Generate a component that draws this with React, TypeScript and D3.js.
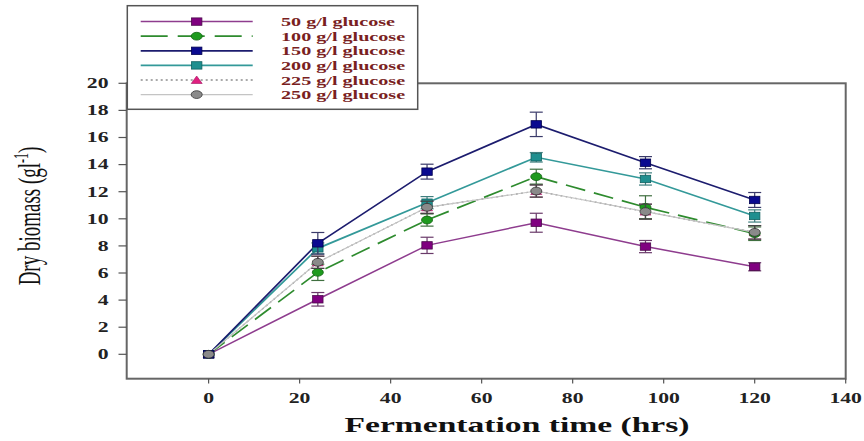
import React from "react";
import * as d3 from "d3";

const times = [0, 24, 48, 72, 96, 120];
const s50 = [0, 4.06, 8.04, 9.71, 7.95, 6.46];
const e50 = [0, 0.5, 0.6, 0.7, 0.45, 0.3];
const s100 = [0, 6.05, 9.91, 13.11, 10.85, 8.9];
const e100 = [0, 0.6, 0.45, 0.55, 0.85, 0.5];
const s150 = [0, 8.19, 13.48, 16.97, 14.14, 11.39];
const e150 = [0, 0.8, 0.55, 0.9, 0.45, 0.55];
const s200 = [0, 7.82, 11.19, 14.54, 12.94, 10.21];
const e200 = [0, 0.4, 0.45, 0.35, 0.45, 0.45];
const s225 = [0, 6.79, 10.85, 12.05, 10.53, 9.0];
const e225 = [0, 0.45, 0.45, 0.45, 0.55, 0.5];
const s250 = [0, 6.79, 10.85, 12.05, 10.53, 9.0];
const e250 = [0, 0.45, 0.45, 0.45, 0.55, 0.5];

const seriesLabels = [
  "50 g/l glucose",
  "100 g/l glucose",
  "150 g/l glucose",
  "200 g/l glucose",
  "225 g/l glucose",
  "250 g/l glucose",
];
const xTicks = [0, 20, 40, 60, 80, 100, 120, 140];
const yTicks = [0, 2, 4, 6, 8, 10, 12, 14, 16, 18, 20];

type Style = {
  line: string;
  width: number;
  dash?: string;
  marker: "square" | "circle" | "triangle";
  fill: string;
  stroke: string;
  err: string;
};

const styles: Style[] = [
  { line: "#8E3C8E", width: 1.5, marker: "square", fill: "#800080", stroke: "#4B0A4B", err: "#6a3a6a" },
  { line: "#2E8B2E", width: 1.7, dash: "20,9", marker: "circle", fill: "#1E9A1E", stroke: "#106010", err: "#3f6f3f" },
  { line: "#1C1C6E", width: 1.7, marker: "square", fill: "#0A0A90", stroke: "#000050", err: "#3a3a6a" },
  { line: "#339999", width: 1.7, marker: "square", fill: "#1F8F8F", stroke: "#106060", err: "#3f7f7f" },
  { line: "#777777", width: 1.2, dash: "2,3", marker: "triangle", fill: "#E0207F", stroke: "#A01060", err: "#a05080" },
  { line: "#C4C4C4", width: 1.2, marker: "circle", fill: "#8A8A8A", stroke: "#333333", err: "#444444" },
];

const values = [s50, s100, s150, s200, s225, s250];
const errors = [e50, e100, e150, e200, e225, e250];

const FONT = "'Liberation Serif', 'Times New Roman', serif";
const SX = 1.55;

function Marker({ x, y, st }: { x: number; y: number; st: Style }) {
  if (st.marker === "square")
    return <rect x={x - 5.2} y={y - 3.7} width={10.4} height={7.4} fill={st.fill} stroke={st.stroke} strokeWidth={0.8} />;
  if (st.marker === "circle")
    return <ellipse cx={x} cy={y} rx={5.5} ry={3.9} fill={st.fill} stroke={st.stroke} strokeWidth={0.8} />;
  return (
    <path d={`M${x - 5.5},${y + 3.5}L${x + 5.5},${y + 3.5}L${x},${y - 4}Z`} fill={st.fill} stroke={st.stroke} strokeWidth={0.6} />
  );
}

export default function App() {
  const W = 864;
  const H = 441;
  const x = d3.scaleLinear().domain([-18, 140]).range([126.7, 845.7]);
  const y = d3.scaleLinear().domain([-1.8, 20]).range([378.7, 83.3]);
  const line = (vals: number[]) =>
    d3.line<number>().x((_, i) => x(times[i])).y((v) => y(v))(vals) || "";

  const order = [4, 0, 1, 3, 2, 5];
  const legendRows = [21.6, 36.2, 50.8, 65.4, 80.0, 94.6];

  return (
    <svg width={W} height={H} style={{ position: "absolute", left: 0, top: 0, background: "#fff" }} fontFamily={FONT}>
      <rect x={0} y={0} width={W} height={H} fill="#fff" />
      {/* plot frame */}
      <rect x={126.7} y={83.3} width={719} height={295.4} fill="none" stroke="#666" strokeWidth={2} />
      {/* y ticks */}
      {yTicks.map((t) => (
        <g key={"y" + t}>
          <line x1={118.5} x2={126.7} y1={y(t)} y2={y(t)} stroke="#555" strokeWidth={1.2} />
          <text
            transform={`translate(108.5,${y(t) + 4.8}) scale(${SX},1)`}
            textAnchor="end"
            fontSize={14}
            fontWeight="bold"
            fill="#222"
          >
            {t}
          </text>
        </g>
      ))}
      {/* x ticks */}
      {xTicks.map((t) => (
        <g key={"x" + t}>
          <line x1={x(t)} x2={x(t)} y1={378.7} y2={383.5} stroke="#555" strokeWidth={1.2} />
          <text
            transform={`translate(${x(t)},${402.5}) scale(${SX},1)`}
            textAnchor="middle"
            fontSize={14}
            fontWeight="bold"
            fill="#222"
          >
            {t}
          </text>
        </g>
      ))}
      {/* axis titles */}
      <text
        transform={`translate(517,432) scale(1.6,1)`}
        textAnchor="middle"
        fontSize={21}
        fontWeight="bold"
        fill="#111"
      >
        Fermentation time (hrs)
      </text>
      <g transform={`translate(40,216) scale(1.7,1) rotate(-90)`}>
        <text textAnchor="middle" fontSize={19} fill="#111">
          Dry biomass (gl
          <tspan fontSize={12} dy={-7}>-1</tspan>
          <tspan dy={7}>)</tspan>
        </text>
      </g>
      {/* series lines */}
      {order.map((k) => (
        <path
          key={"l" + k}
          d={line(values[k])}
          fill="none"
          stroke={styles[k].line}
          strokeWidth={styles[k].width}
          strokeDasharray={styles[k].dash}
        />
      ))}
      {/* error bars + markers */}
      {order.map((k) => (
        <g key={"m" + k}>
          {values[k].map((v, i) => {
            const e = errors[k][i];
            const cx = x(times[i]);
            if (e <= 0) return null;
            return (
              <g key={i} stroke={styles[k].err} strokeWidth={1.2}>
                <line x1={cx} x2={cx} y1={y(v - e)} y2={y(v + e)} />
                <line x1={cx - 6.5} x2={cx + 6.5} y1={y(v - e)} y2={y(v - e)} />
                <line x1={cx - 6.5} x2={cx + 6.5} y1={y(v + e)} y2={y(v + e)} />
              </g>
            );
          })}
          {values[k].map((v, i) => (
            <Marker key={i} x={x(times[i])} y={y(v)} st={styles[k]} />
          ))}
        </g>
      ))}
      {/* legend */}
      <rect x={127.3} y={5.7} width={290.4} height={103.6} fill="#fff" stroke="#555" strokeWidth={1.5} />
      {seriesLabels.map((lab, k) => {
        const ry = legendRows[k];
        const st = styles[k];
        return (
          <g key={"lg" + k}>
            <line
              x1={140.7}
              x2={252.7}
              y1={ry}
              y2={ry}
              stroke={k === 4 ? "#555" : st.line}
              strokeWidth={st.width}
              strokeDasharray={k === 1 ? "27,10" : st.dash}
            />
            <Marker x={196.7} y={ry} st={st} />
            <text
              transform={`translate(281,${ry + 4.5}) scale(${SX},1)`}
              fontSize={13}
              fontWeight="bold"
              fill="#7A1F1F"
            >
              {lab}
            </text>
          </g>
        );
      })}
    </svg>
  );
}
